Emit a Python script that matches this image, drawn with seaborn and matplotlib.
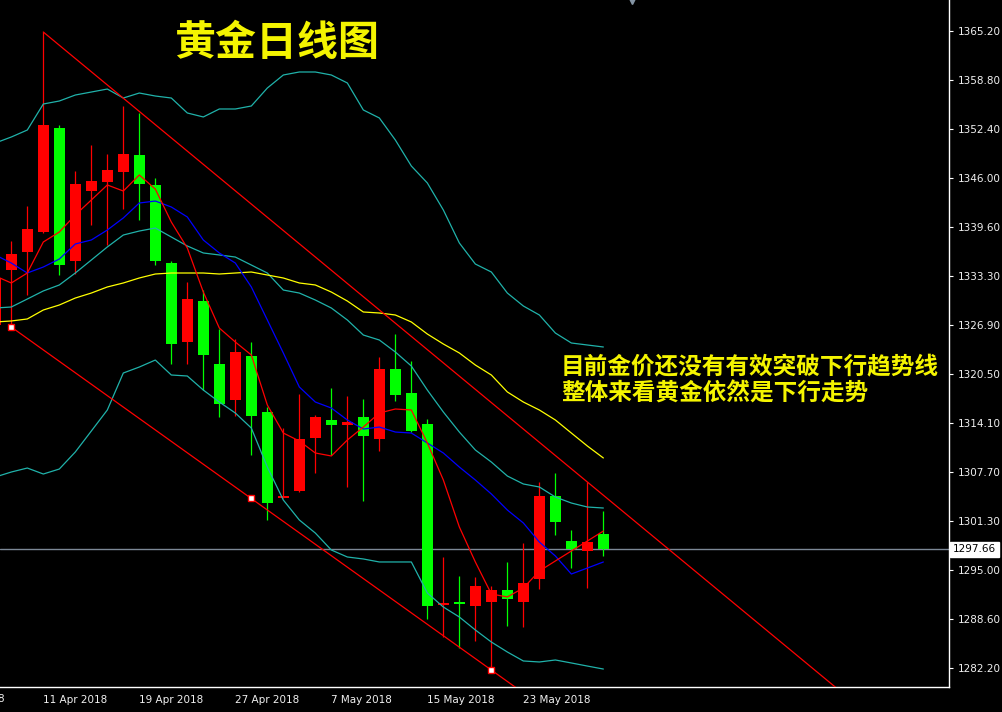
import numpy as np
import pandas as pd
import matplotlib
matplotlib.use('Agg')
import matplotlib.pyplot as plt
import matplotlib.transforms as mtransforms
import seaborn as sns

# ============================
# 数据
# ============================
dates = pd.bdate_range('2018-04-06', '2018-05-30')

opens = [1326.89, 1334.06, 1336.40, 1339.01, 1352.56, 1335.23, 1344.35, 1345.53, 1346.83, 1349.04,
         1345.14, 1334.97, 1324.68, 1330.02, 1321.81, 1317.12, 1322.85, 1315.56, 1304.35, 1305.27,
         1312.17, 1314.52, 1313.86, 1314.91, 1312.04, 1321.16, 1318.03, 1314.00, 1290.41, 1290.80,
         1290.28, 1290.80, 1292.37, 1290.80, 1293.80, 1304.61, 1298.75, 1297.45, 1299.66]
highs = [1334.06, 1337.84, 1342.40, 1365.07, 1352.95, 1346.96, 1350.35, 1349.17, 1355.43, 1354.52,
         1346.05, 1335.23, 1332.50, 1331.45, 1326.37, 1325.07, 1324.68, 1316.21, 1313.47, 1317.90,
         1315.17, 1318.69, 1317.64, 1317.25, 1322.72, 1325.72, 1322.20, 1314.65, 1296.67, 1294.19,
         1294.06, 1292.89, 1296.01, 1298.49, 1306.44, 1307.61, 1300.18, 1306.44, 1302.66]
lows = [1326.50, 1326.63, 1330.80, 1338.88, 1333.41, 1333.54, 1339.92, 1337.32, 1342.01, 1340.58,
        1334.71, 1321.81, 1321.81, 1318.42, 1314.91, 1315.04, 1309.96, 1301.49, 1304.30, 1305.14,
        1307.61, 1309.96, 1305.79, 1303.96, 1310.48, 1316.99, 1312.95, 1288.59, 1286.24, 1284.81,
        1285.72, 1281.94, 1287.68, 1287.55, 1292.50, 1299.53, 1295.23, 1292.63, 1296.80]
closes = [1333.02, 1336.14, 1339.40, 1352.95, 1334.71, 1345.27, 1345.66, 1347.09, 1349.17, 1345.27,
          1335.23, 1324.42, 1330.28, 1322.98, 1316.60, 1323.37, 1315.04, 1303.70, 1304.61, 1312.04,
          1314.91, 1313.86, 1314.26, 1312.43, 1321.16, 1317.77, 1313.08, 1290.28, 1290.67, 1290.54,
          1292.89, 1292.37, 1291.19, 1293.28, 1304.61, 1301.23, 1297.71, 1298.62, 1297.66]

ma_red = [1333.28, 1332.37, 1333.67, 1337.71, 1339.01, 1341.23, 1343.18, 1345.14, 1344.35, 1346.44,
          1344.61, 1340.31, 1336.93, 1331.19, 1326.50, 1324.68, 1322.99, 1316.47, 1312.82, 1311.78,
          1310.22, 1309.83, 1311.91, 1313.60, 1315.43, 1315.95, 1315.82, 1311.52, 1306.70, 1300.58,
          1296.02, 1291.85, 1291.46, 1292.63, 1294.84, 1296.15, 1297.45, 1298.75, 1300.05]
ma_blue = [1336.02, 1334.97, 1333.67, 1334.45, 1335.49, 1337.45, 1337.97, 1339.27, 1340.84, 1342.79,
           1343.05, 1342.27, 1340.97, 1337.97, 1336.28, 1334.97, 1331.85, 1327.55, 1323.25, 1318.82,
           1316.86, 1316.08, 1314.52, 1313.34, 1313.60, 1312.95, 1312.82, 1311.52, 1310.22, 1308.39,
           1306.70, 1304.88, 1302.79, 1301.10, 1298.62, 1296.80, 1294.45, 1295.23, 1296.02]
ma_yellow = [1327.29, 1327.42, 1327.68, 1328.85, 1329.50, 1330.41, 1331.06, 1331.85, 1332.37, 1333.02,
             1333.54, 1333.67, 1333.67, 1333.67, 1333.54, 1333.67, 1333.80, 1333.41, 1333.02, 1332.37,
             1332.11, 1331.19, 1330.02, 1328.59, 1328.46, 1328.20, 1327.29, 1325.72, 1324.42, 1323.25,
             1321.68, 1320.38, 1318.17, 1316.86, 1315.82, 1314.52, 1312.82, 1311.13, 1309.57]
bb_upper = [1350.61, 1351.39, 1352.30, 1355.69, 1356.08, 1356.86, 1357.25, 1357.64, 1356.47, 1357.12,
            1356.73, 1356.47, 1354.52, 1354.00, 1355.04, 1355.04, 1355.43, 1357.77, 1359.47, 1359.86,
            1359.86, 1359.47, 1358.43, 1354.91, 1353.87, 1351.00, 1347.61, 1345.40, 1341.88, 1337.58,
            1334.84, 1333.80, 1331.06, 1329.37, 1328.20, 1325.85, 1324.55, 1324.29, 1324.03]
bb_mid = [1329.11, 1329.24, 1330.28, 1331.33, 1332.11, 1333.67, 1335.36, 1337.06, 1338.62, 1339.14,
          1339.53, 1338.36, 1337.19, 1336.28, 1336.02, 1335.75, 1334.71, 1333.67, 1331.45, 1331.06,
          1330.15, 1329.11, 1327.55, 1325.59, 1324.94, 1323.38, 1321.55, 1318.42, 1315.56, 1312.95,
          1310.61, 1309.04, 1307.22, 1306.18, 1305.79, 1304.48, 1303.70, 1303.18, 1303.05]
bb_lower = [1307.09, 1307.74, 1308.26, 1307.48, 1308.13, 1310.35, 1313.08, 1315.82, 1320.64, 1321.42,
            1322.33, 1320.38, 1320.25, 1318.42, 1316.86, 1315.43, 1313.47, 1308.39, 1304.09, 1301.49,
            1299.79, 1297.58, 1296.67, 1296.41, 1296.02, 1296.02, 1296.02, 1291.98, 1290.15, 1288.85,
            1287.16, 1285.59, 1284.29, 1283.12, 1282.99, 1283.25, 1282.86, 1282.46, 1282.07]

# 趋势线锚点（K线序号, 价格）
upper_trend_x = [3, 37]
upper_trend_y = [1365.07, 1306.44]
lower_trend_x = [1, 16, 31]
lower_trend_y = [1326.63, 1304.30, 1281.94]

price_ticks = [1365.20, 1358.80, 1352.40, 1346.00, 1339.60, 1333.30, 1326.90,
               1320.50, 1314.10, 1307.70, 1301.30, 1295.00, 1288.60, 1282.20]
current_price = 1297.66
date_ticks = ['2018-04-11', '2018-04-19', '2018-04-27', '2018-05-07', '2018-05-15', '2018-05-23']
first_label_date = '2018-04-03'

title = '黄金日线图'
note_lines = ['目前金价还没有有效突破下行趋势线', '整体来看黄金依然是下行走势']

# ============================
# 绘图风格
# ============================
sns.set_theme(style='dark', rc={'axes.facecolor': 'black', 'figure.facecolor': 'black',
                                'axes.grid': False})
plt.rcParams['font.family'] = ['DejaVu Sans']

n = len(dates)
idx = np.arange(n)
df = pd.DataFrame({'idx': idx, 'open': opens, 'high': highs, 'low': lows, 'close': closes,
                   'ma_red': ma_red, 'ma_blue': ma_blue, 'ma_yellow': ma_yellow,
                   'bb_upper': bb_upper, 'bb_mid': bb_mid, 'bb_lower': bb_lower})

fig = plt.figure(figsize=(10.02, 7.12), dpi=100)
ax = fig.add_axes([0, 25 / 712, 949 / 1002, 687 / 712])
ax.set_facecolor('black')

# 当前价水平线
ax.axhline(current_price, color='#7C8896', lw=1.0, zorder=1)

# K线
up = df['close'] >= df['open']
colors = np.where(up, '#FF0000', '#00FF00')
ax.vlines(df['idx'], df['low'], df['high'], colors=colors, lw=0.9, zorder=2)
body_low = df[['open', 'close']].min(axis=1)
body_h = (df['close'] - df['open']).abs()
ax.bar(df['idx'], body_h, bottom=body_low, width=0.68, color=colors, lw=0, zorder=3)

# 布林带 + 均线
for col, c in [('bb_upper', '#20B2AA'), ('bb_mid', '#20B2AA'), ('bb_lower', '#20B2AA'),
               ('ma_yellow', '#FFFF00'), ('ma_blue', '#0000FF'), ('ma_red', '#FF0000')]:
    sns.lineplot(data=df, x='idx', y=col, color=c, lw=0.9, ax=ax, zorder=4)

xlim = (0.294, 59.6)

# 趋势线
for tx, ty, marks in [(upper_trend_x, upper_trend_y, False), (lower_trend_x, lower_trend_y, True)]:
    slope = (ty[-1] - ty[0]) / (tx[-1] - tx[0])
    end_y = ty[0] + slope * (xlim[1] - tx[0])
    ax.plot([tx[0], xlim[1]], [ty[0], end_y], color='#FF0000', lw=0.9, zorder=5)
    if marks:
        ax.plot(tx, ty, ls='none', marker='s', ms=4.5, mfc='white', mec='#FF0000', mew=1.0, zorder=6)

ax.set_xlim(*xlim)
ax.set_ylim(1279.73, 1369.24)

# 坐标轴
tick_pos = [dates.get_loc(pd.Timestamp(d)) for d in date_ticks]
tick_lab = [f'{d.day} {d:%b %Y}' for d in pd.to_datetime(date_ticks)]
ax.set_xticks(tick_pos, tick_lab)
for lab in ax.get_xticklabels():
    lab.set_ha('left')
ax.yaxis.tick_right()
ax.set_yticks(price_ticks, [f'{v:.2f}' for v in price_ticks])
ax.tick_params(axis='both', colors='white', labelcolor='#F0F0F0', labelsize=7.5,
               length=3, width=0.8, direction='out')
ax.tick_params(axis='x', pad=3)
ax.tick_params(axis='y', pad=3)
ax.set_xlabel('')
ax.set_ylabel('')
for side in ['top', 'left']:
    ax.spines[side].set_visible(False)
for side in ['right', 'bottom']:
    ax.spines[side].set_color('white')
    ax.spines[side].set_linewidth(1.0)

# 左侧被截断的日期
d0 = pd.Timestamp(first_label_date)
x0 = -len(pd.bdate_range(d0, dates[0])) + 1
trans_x = mtransforms.blended_transform_factory(ax.transData, ax.transAxes)
ax.text(x0, -0.0175, f'{d0.day} {d0:%b %Y}', transform=trans_x, ha='left', va='center',
        color='#F0F0F0', fontsize=7.5, clip_on=False)

# 当前价标签
trans_y = mtransforms.blended_transform_factory(ax.transAxes, ax.transData)
ax.text(1.004, current_price, f'{current_price:.2f}', transform=trans_y, ha='left', va='center',
        color='black', fontsize=7.5, clip_on=False,
        bbox=dict(boxstyle='square,pad=0.25', fc='white', ec='white'))

# 顶部平移标记
ax.plot([n + 0.8], [1369.24], marker='v', ms=6, color='#8494A4', clip_on=False, zorder=7)

# 文字
cjk = ['Noto Sans CJK SC', 'DejaVu Sans']
ax.text(0.291, 0.937, title, transform=ax.transAxes, ha='center', va='center',
        color='#F4F400', fontsize=29.5, fontweight='bold', family=cjk)
ax.text(0.5911, 0.4672, note_lines[0], transform=ax.transAxes, ha='left', va='center',
        color='#F4F400', fontsize=17, fontweight='bold', family=cjk)
ax.text(0.5911, 0.4265, note_lines[1], transform=ax.transAxes, ha='left', va='center',
        color='#F4F400', fontsize=17, fontweight='bold', family=cjk)

fig.savefig('out.png', dpi=100, facecolor='black')
